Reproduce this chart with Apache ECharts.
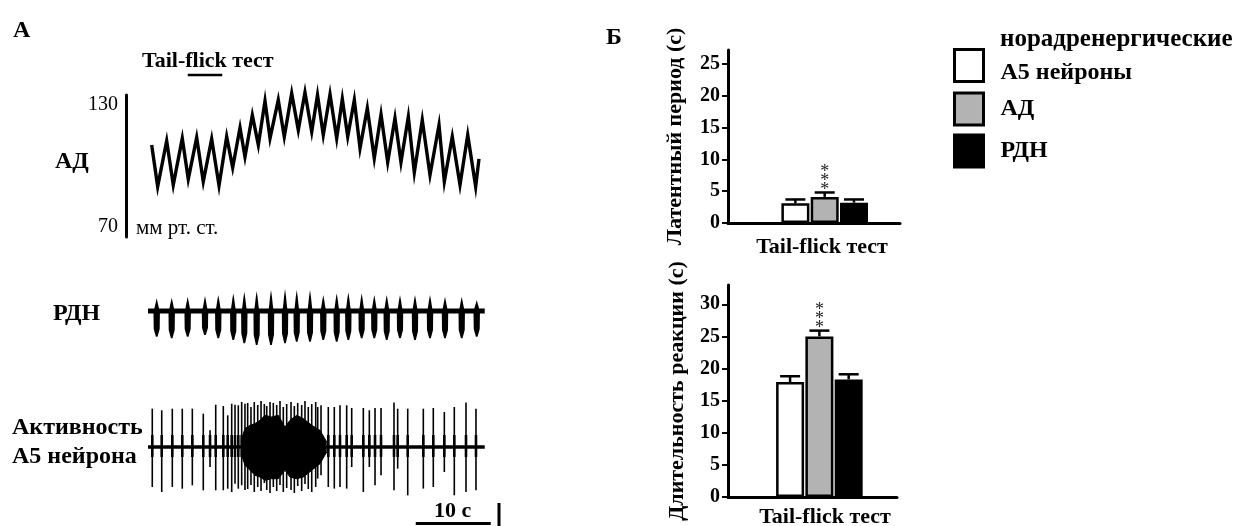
<!DOCTYPE html>
<html><head><meta charset="utf-8">
<script src="https://cdn.jsdelivr.net/npm/echarts@6/dist/echarts.min.js"></script>
<style>html,body{margin:0;padding:0;background:#fff}#c{width:1234px;height:526px}</style>
</head><body><div id="c"></div>
<script>
// ---------------- DATA ----------------
// Panel A: blood pressure (АД), time in s, mmHg (peaks / troughs)
const adTime = [0.49,1.29,2.49,3.37,4.57,5.37,6.49,7.37,8.49,9.47,10.49,11.29,12.27,12.93,13.91,14.71,15.6,16.27,17.37,18.17,19.16,20.04,20.93,21.83,22.6,23.37,24.27,25.16,25.91,26.63,27.51,28.27,29.24,30.17,31.07,31.96,32.93,33.73,34.71,35.51,36.57,37.6,38.8,39.51,40.57,41.6,42.63,43.69,44.13];
const adValue = [108.9,91.3,110.6,92.0,111.7,94.5,112.0,93.4,111.4,91.7,112.4,99.3,116.2,103.9,121.5,108.9,127.5,111.7,127.9,112.4,130.7,115.2,131.1,114.5,130,113.1,130.3,111.7,128.3,112.4,127.9,107.5,124.4,103.3,121.8,101.6,120.2,101.6,120.8,97.3,119.4,96.2,117.3,93.4,112.4,92.0,113.1,91.3,103.0];
const adTicks = [70, 130];
const stimulus = [5.3, 9.9];          // Tail-flick stimulation, s
const stimulusLevel = 138.4;          // drawn above the trace
// РДН bursts: time (s), upper and lower amplitude (a.u.)
const rdnTime = [1.16,3.16,5.29,7.6,9.37,11.37,12.84,14.49,16.4,18.27,19.83,21.6,23.37,25.16,26.71,28.49,30.17,31.83,33.6,35.6,37.6,39.6,41.83,43.83];
const rdnTop = [12.7,13.3,14.3,15,16,17.7,19.3,20,21,22,21,21,16,17.7,18.7,17.7,16,16,16,16,16,14.3,14.3,11];
const rdnBottom = [-25.7,-27.3,-25.7,-24,-27.3,-29,-32.3,-34,-34,-32.3,-30.7,-30.7,-29,-30.7,-29,-27.3,-27.3,-29,-27.3,-29,-27.3,-27.3,-27.3,-25.7];
const traceSpan = [0, 44.9];
// A5 neuron spikes: time (s), upper and lower amplitude (a.u.)
const spikeTime = [0.57,1.83,3.24,4.57,5.91,7.37,8.27,9.03,10.04,10.63,11.16,11.6,12.04,12.49,12.93,13.29,13.73,14.17,14.63,15.07,15.51,15.83,16.27,16.71,17.16,17.6,18.04,18.49,19.07,19.51,19.96,20.49,20.93,21.37,21.83,22.36,22.63,23.07,24.04,24.84,25.6,26.49,27.16,28.71,29.51,30.27,31.07,32.8,33.29,34.63,36.71,38.04,39.51,40.84,42.4,43.73];
const spikeTop = [38.3,36.7,38.3,38.3,38.3,33.3,16.7,42.3,41,31.7,43.3,42.3,41.7,45,43.3,44,40,45,42,46,43,41,45,44,42,46,40,43,45,41,44,42,46,40,43,45,40,41.7,40,40,41.7,41.7,39,39,36.7,39,39,44.4,38.3,38.3,38.3,39,35,40,44.4,38.3];
const spikeBottom = [-40,-45,-40,-41.7,-38.3,-43.3,-20,-43.3,-43.3,-41.7,-45,-36.7,-41.7,-38.3,-43,-42,-38,-45,-40,-44,-36,-43,-46,-40,-44,-38,-45,-41,-43,-46,-39,-44,-37,-42,-45,-40,-31.6,-28.3,-40,-41.6,-40,-41.6,-20,-45,-20,-38.3,-28.3,-43.3,-21.6,-48.3,-41.6,-40,-25,-48.3,-45,-43.3];
// dense high-frequency discharge envelope
const denseTime = [12.49,12.93,13.6,14.27,14.93,15.6,16.49,17.37,18.27,18.93,19.83,20.71,21.83,22.93,23.83];
const denseUpper = [8.4,18.4,21.7,23.4,26.7,31.7,30,31.7,20,26.7,31.7,28.4,21.7,16.7,5];
const denseLower = [-8.3,-18.3,-23.3,-28.3,-30,-33.3,-31.7,-31.7,-23.3,-30,-31.7,-30,-23.3,-16.7,-5];
// scale bars
const scaleBarStart = 35.7, scaleBarLength = 10;   // "10 с"
const ampBarTime = 46.8, ampBar = [0, 0.88];
// Panel Б
const groups = ['норадренергические А5 нейроны', 'АД', 'РДН'];
const groupPos = [1, 2, 3];
const latencyMean = [3.1, 4.1, 3.2];
const latencyErr = [0.6, 0.7, 0.5];
const durationMean = [17.9, 25.0, 18.3];
const durationErr = [0.9, 0.9, 0.8];
const significance = ['', '***', ''];
const latencyTicks = [0, 5, 10, 15, 20, 25];
const durationTicks = [0, 5, 10, 15, 20, 25, 30];
const category = 'Tail-flick тест';

// ---------------- STYLE ----------------
const FONT = '"Liberation Serif", "Times New Roman", serif';
const barColors = ['#ffffff', '#b3b3b3', '#000000'];
const chart = echarts.init(document.getElementById('c'), null, {renderer: 'canvas'});

function hiddenAxis(gi, min, max) {
  return {type: 'value', gridIndex: gi, min, max, show: false};
}

function errorRender(sigs) {
  return function (params, api) {
    const x = api.value(0), m = api.value(1), e = api.value(2);
    const pb = api.coord([x, m]), pt = api.coord([x, m + e]);
    const ch = [
      {type: 'line', shape: {x1: pb[0], y1: pb[1], x2: pt[0], y2: pt[1]}, style: {stroke: '#000', lineWidth: 2.5}},
      {type: 'line', shape: {x1: pt[0] - 10, y1: pt[1], x2: pt[0] + 10, y2: pt[1]}, style: {stroke: '#000', lineWidth: 2.5}}
    ];
    const s = sigs[params.dataIndex] || '';
    for (let k = 0; k < s.length; k++) {
      ch.push({type: 'text', style: {text: '*', x: pt[0], y: pt[1] - 2 - k * 9, align: 'center', verticalAlign: 'middle',
        font: '18px ' + FONT, fill: '#222'}});
    }
    return {type: 'group', children: ch};
  };
}

function burstRender(params, api) {
  const t = api.value(0);
  const pt = api.coord([t, api.value(1)]);
  const pb = api.coord([t, api.value(2)]);
  const p0 = api.coord([t, 0]);
  const cx = p0[0], base = p0[1], ty = pt[1], by = pb[1];
  const mid = base + 0.7 * (by - base);
  const pts = [[cx, ty], [cx + 1, ty + 0.35 * (base - ty)], [cx + 2, base - 4], [cx + 3.2, base + 2], [cx + 3, mid],
    [cx + 0.8, by], [cx - 0.8, by], [cx - 3, mid], [cx - 3.2, base + 2], [cx - 2, base - 4], [cx - 1, ty + 0.35 * (base - ty)]];
  return {type: 'polygon', shape: {points: pts}, style: {fill: '#000'}};
}

function spikeRender(params, api) {
  const t = api.value(0);
  const a = api.coord([t, api.value(1)]), b = api.coord([t, api.value(2)]);
  const c1 = api.coord([t, 12]), c2 = api.coord([t, -10]);
  return {type: 'group', children: [
    {type: 'line', shape: {x1: a[0], y1: a[1], x2: b[0], y2: b[1]}, style: {stroke: '#000', lineWidth: 1.6}},
    {type: 'line', shape: {x1: c1[0], y1: c1[1], x2: c2[0], y2: c2[1]}, style: {stroke: '#000', lineWidth: 2.6}}
  ]};
}

function barYAxis(gi, max, ticks, name, gap) {
  return {
    type: 'value', gridIndex: gi, min: 0, max: max,
    axisLine: {show: true, onZero: false, lineStyle: {color: '#000', width: 3}},
    axisTick: {show: true, length: 6, lineStyle: {color: '#000', width: 2}, customValues: ticks},
    axisLabel: {show: true, margin: 8, color: '#000', fontFamily: FONT, fontWeight: 'bold', fontSize: 20, customValues: ticks},
    splitLine: {show: false},
    name: name, nameLocation: 'middle', nameGap: gap, nameRotate: 90,
    nameTextStyle: {color: '#000', fontFamily: FONT, fontWeight: 'bold', fontSize: 22}
  };
}
function barXAxis(gi, min, max, gap, shift) {
  return {
    type: 'value', gridIndex: gi, min: min, max: max,
    axisLine: {show: true, onZero: false, lineStyle: {color: '#000', width: 3}},
    axisTick: {show: false}, axisLabel: {show: false}, splitLine: {show: false},
    name: category, nameLocation: 'middle', nameGap: gap,
    nameTextStyle: {color: '#000', fontFamily: FONT, fontWeight: 'bold', fontSize: 22, padding: [0, 0, 0, shift]}
  };
}

const barSeries = [];
function addBars(xi, yi, means, errs) {
  groups.forEach((g, i) => {
    barSeries.push({
      type: 'bar', name: g, xAxisIndex: xi, yAxisIndex: yi, barWidth: 28, barGap: '-100%',
      data: [[groupPos[i], means[i]]],
      itemStyle: {color: barColors[i], borderColor: '#000', borderWidth: 2.5},
      emphasis: {disabled: true}
    });
  });
  barSeries.push({
    type: 'custom', xAxisIndex: xi, yAxisIndex: yi, renderItem: errorRender(significance),
    encode: {x: 0, y: 1}, data: groupPos.map((p, i) => [p, means[i], errs[i]]), z: 5
  });
}
addBars(4, 4, latencyMean, latencyErr);
addBars(5, 5, durationMean, durationErr);

const bold = (size) => ({color: '#000', fontFamily: FONT, fontWeight: 'bold', fontSize: size});

const option = {
  animation: false,
  backgroundColor: '#fff',
  textStyle: {fontFamily: FONT},
  title: [
    {text: 'А', left: 13, top: 19, padding: 0, textStyle: bold(24)},
    {text: 'Б', left: 606, top: 26, padding: 0, textStyle: bold(24)},
    {text: 'Tail-flick тест', left: 142, top: 50, padding: 0, textStyle: bold(22)},
    {text: 'АД', left: 55, top: 150, padding: 0, textStyle: bold(24)},
    {text: 'мм рт. ст.', left: 136, top: 218, padding: 0, textStyle: {color: '#000', fontFamily: FONT, fontWeight: 'normal', fontSize: 21}},
    {text: 'РДН', left: 53, top: 302, padding: 0, textStyle: bold(24)},
    {text: 'Активность\nА5 нейрона', left: 12, top: 413, padding: 0, textStyle: Object.assign(bold(24), {lineHeight: 29})},
    {text: '10 с', left: 434, top: 500, padding: 0, textStyle: bold(22)},
    {text: 'норадренергические', left: 1000, top: 27, padding: 0, textStyle: bold(25)}
  ],
  legend: {
    orient: 'vertical', left: 953, top: 48, padding: 0,
    itemWidth: 29, itemHeight: 32, itemGap: 7, icon: 'rect',
    selectedMode: false,
    data: groups.map((g) => ({name: g, itemStyle: {borderColor: '#000', borderWidth: 3}})),
    formatter: (n) => n === groups[0] ? '{low|А5 нейроны}' : '{n|' + n + '}',
    textStyle: Object.assign(bold(24), {padding: [0, 0, 0, 12],
      rich: {
        low: Object.assign(bold(24), {padding: [14, 0, 0, 0]}),
        n: bold(24)
      }})
  },
  grid: [
    {left: 148, top: 95, width: 345, height: 142, outerBoundsMode: 'none'},
    {left: 148, top: 285, width: 345, height: 65, outerBoundsMode: 'none'},
    {left: 148, top: 400, width: 345, height: 97, outerBoundsMode: 'none'},
    {left: 148, top: 500, width: 354, height: 26, outerBoundsMode: 'none'},
    {left: 728, top: 50, width: 172, height: 173, outerBoundsMode: 'none'},
    {left: 728, top: 285, width: 169, height: 212, outerBoundsMode: 'none'}
  ],
  xAxis: [
    hiddenAxis(0, 0, 46), hiddenAxis(1, 0, 46), hiddenAxis(2, 0, 46), hiddenAxis(3, 0, 47.2),
    barXAxis(4, -1.3, 4.57, 13, 16),
    barXAxis(5, -1.12, 4.65, 9, 25)
  ],
  yAxis: [
    {type: 'value', gridIndex: 0, min: 70, max: 130, offset: 22,
      axisLine: {show: true, onZero: false, lineStyle: {color: '#000', width: 3}},
      axisTick: {show: false}, splitLine: {show: false},
      axisLabel: {show: true, customValues: adTicks, margin: 8, color: '#000', fontFamily: FONT, fontSize: 20,
        verticalAlignMinLabel: 'bottom', verticalAlignMaxLabel: 'top'}},
    hiddenAxis(1, -39, 26), hiddenAxis(2, -50, 47), hiddenAxis(3, 0, 1),
    barYAxis(4, 27.2, latencyTicks, 'Латентный период (с)', 42),
    barYAxis(5, 33, durationTicks, 'Длительность реакции (с)', 40)
  ],
  series: [
    {type: 'line', name: 'АД trace', xAxisIndex: 0, yAxisIndex: 0, clip: false, symbol: 'none',
      data: adTime.map((t, i) => [t, adValue[i]]), lineStyle: {color: '#000', width: 3.4, join: 'miter'}},
    {type: 'line', xAxisIndex: 0, yAxisIndex: 0, clip: false, symbol: 'none',
      data: stimulus.map((t) => [t, stimulusLevel]), lineStyle: {color: '#000', width: 2.5}},
    {type: 'line', xAxisIndex: 1, yAxisIndex: 1, symbol: 'none',
      data: traceSpan.map((t) => [t, 0]), lineStyle: {color: '#000', width: 5}},
    {type: 'custom', xAxisIndex: 1, yAxisIndex: 1, renderItem: burstRender, encode: {x: 0, y: 1},
      data: rdnTime.map((t, i) => [t, rdnTop[i], rdnBottom[i]])},
    {type: 'line', xAxisIndex: 2, yAxisIndex: 2, symbol: 'none',
      data: traceSpan.map((t) => [t, 0]), lineStyle: {color: '#000', width: 3.5}},
    {type: 'line', xAxisIndex: 2, yAxisIndex: 2, symbol: 'none',
      data: denseTime.map((t, i) => [t, denseUpper[i]]), lineStyle: {color: '#000', width: 1},
      areaStyle: {color: '#000', opacity: 1, origin: 0}},
    {type: 'line', xAxisIndex: 2, yAxisIndex: 2, symbol: 'none',
      data: denseTime.map((t, i) => [t, denseLower[i]]), lineStyle: {color: '#000', width: 1},
      areaStyle: {color: '#000', opacity: 1, origin: 0}},
    {type: 'custom', xAxisIndex: 2, yAxisIndex: 2, renderItem: spikeRender, encode: {x: 0, y: 1},
      data: spikeTime.map((t, i) => [t, spikeTop[i], spikeBottom[i]])},
    {type: 'line', xAxisIndex: 3, yAxisIndex: 3, symbol: 'none', clip: false,
      data: [[scaleBarStart, 0.1], [scaleBarStart + scaleBarLength, 0.1]], lineStyle: {color: '#000', width: 3}},
    {type: 'line', xAxisIndex: 3, yAxisIndex: 3, symbol: 'none', clip: false,
      data: ampBar.map((v) => [ampBarTime, v]), lineStyle: {color: '#000', width: 3}}
  ].concat(barSeries)
};
chart.setOption(option);
</script>
</body></html>
